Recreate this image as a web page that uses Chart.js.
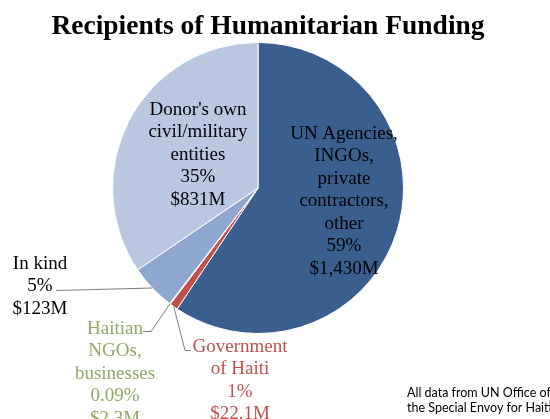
<!DOCTYPE html>
<html>
<head>
<meta charset="utf-8">
<script src="https://cdn.jsdelivr.net/npm/chart.js@4"></script>
<style>
  html, body { margin: 0; padding: 0; background: #fff; }
</style>
</head>
<body>
<canvas id="fundingPie" width="550" height="419"></canvas>
<script>
// data (millions of USD), clockwise from 12 o'clock
const recipients = ["UN Agencies, INGOs, private contractors, other", "Government of Haiti", "Haitian NGOs, businesses", "In kind", "Donor's own civil/military entities"];
const fundingMillions = [1430, 22.1, 2.3, 123, 831];
const percentLabels = ["59%", "1%", "0.09%", "5%", "35%"];
const amountLabels = ["$1,430M", "$22.1M", "$2.3M", "$123M", "$831M"];
const nameLines = [
    ["UN Agencies,", "INGOs,", "private", "contractors,", "other"],
    ["Government", "of Haiti"],
    ["Haitian", "NGOs,", "businesses"],
    ["In kind"],
    ["Donor's own", "civil/military", "entities"]
];
const sliceColors = ["#3A5E8E", "#C0504D", "#9BBB59", "#8FA6CF", "#B9C7E1"];
const labelColors = ["#000000", "#C0504D", "#8EAA62", "#000000", "#000000"];

const chartTitle = "Recipients of Humanitarian Funding";
const sourceNote = ["All data from UN Office of", "the Special Envoy for Haiti"];

// where each label block sits (center x, first line y)
const labelSpots = [
    { x: 344, y: 134 },
    { x: 240, y: 347 },
    { x: 115, y: 329 },
    { x: 40, y: 264 },
    { x: 198, y: 110 }
];

// point on the rim at the middle of a slice
function rimPoint(arc) {
    const mid = (arc.startAngle + arc.endAngle) / 2;
    return { x: arc.x + Math.cos(mid) * arc.outerRadius, y: arc.y + Math.sin(mid) * arc.outerRadius };
}

const labelPlugin = {
    id: 'pieLabels',
    afterDraw(chart) {
        const ctx = chart.ctx;
        const arcs = chart.getDatasetMeta(0).data;
        ctx.save();

        // title
        ctx.fillStyle = '#000';
        ctx.font = 'bold 27.5px "Liberation Serif", serif';
        ctx.textAlign = 'center';
        ctx.textBaseline = 'middle';
        ctx.fillText(chartTitle, 268, 27);

        // leader lines
        ctx.strokeStyle = '#7f7f7f';
        ctx.lineWidth = 1;
        let p = rimPoint(arcs[3]);
        ctx.beginPath();
        ctx.moveTo(56, 290.5);
        ctx.lineTo(p.x, p.y);
        ctx.stroke();

        p = rimPoint(arcs[2]);
        ctx.beginPath();
        ctx.moveTo(143, 331.5);
        ctx.lineTo(151, 331.5);
        ctx.lineTo(p.x, p.y);
        ctx.stroke();

        p = rimPoint(arcs[1]);
        ctx.beginPath();
        ctx.moveTo(p.x, p.y);
        ctx.lineTo(185, 350.5);
        ctx.lineTo(191, 350.5);
        ctx.stroke();

        // slice labels
        ctx.font = '19px "Liberation Serif", serif';
        const step = 22.5;
        for (let i = 0; i < recipients.length; i++) {
            const lines = nameLines[i].concat([percentLabels[i], amountLabels[i]]);
            ctx.fillStyle = labelColors[i];
            for (let j = 0; j < lines.length; j++) {
                ctx.fillText(lines[j], labelSpots[i].x, labelSpots[i].y + j * step);
            }
        }

        // source note
        ctx.fillStyle = '#000';
        ctx.font = '12.5px Lato, sans-serif';
        ctx.textAlign = 'left';
        ctx.fillText(sourceNote[0], 407, 393);
        ctx.fillText(sourceNote[1], 407, 408);
        ctx.restore();
    }
};

new Chart(document.getElementById('fundingPie'), {
    type: 'pie',
    data: {
        labels: recipients,
        datasets: [{
            data: fundingMillions,
            backgroundColor: sliceColors,
            borderColor: '#ffffff',
            borderWidth: 1
        }]
    },
    options: {
        responsive: false,
        animation: false,
        layout: { padding: { left: 112, right: 146, top: 42, bottom: 85 } },
        plugins: {
            legend: { display: false },
            tooltip: { enabled: false },
            title: { display: false }
        }
    },
    plugins: [labelPlugin]
});
</script>
</body>
</html>
